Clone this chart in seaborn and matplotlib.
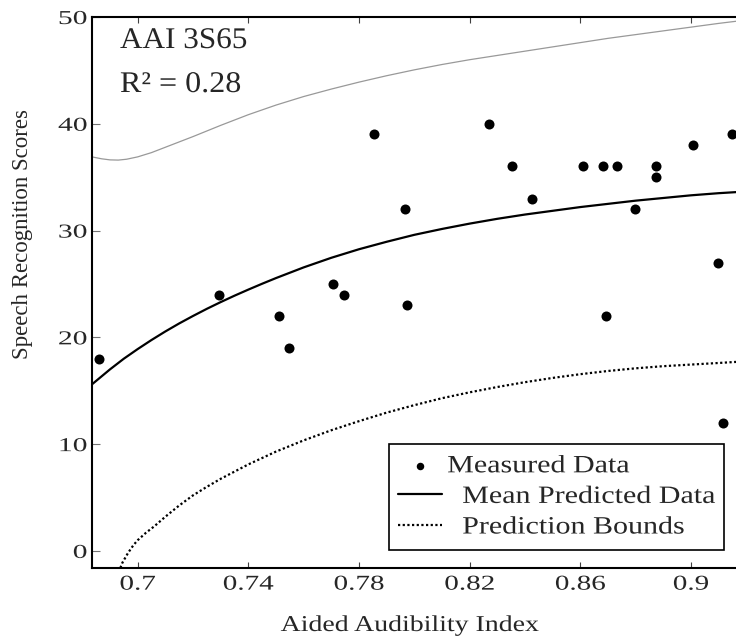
import numpy as np
import pandas as pd
import matplotlib
matplotlib.use("Agg")
import matplotlib.pyplot as plt
import seaborn as sns
from matplotlib.patheffects import AbstractPathEffect
from matplotlib.transforms import Affine2D

# ---------------- data ----------------
aai_measured = [0.686, 0.7295, 0.751, 0.7547, 0.7706, 0.7746, 0.7854, 0.7966, 0.7974,
                0.827, 0.8355, 0.8424, 0.861, 0.8683, 0.8692, 0.8732, 0.8798, 0.8873,
                0.8873, 0.9007, 0.9097, 0.9116, 0.9148]
score_measured = [18, 24, 22, 19, 25, 24, 39, 32, 23,
                  40, 36, 33, 36, 36, 22, 36, 32, 36,
                  35, 38, 27, 12, 39]

mean_x = [0.6835, 0.690, 0.695, 0.700, 0.705, 0.710, 0.715, 0.720, 0.725, 0.730, 0.735,
          0.740, 0.745, 0.750, 0.760, 0.770, 0.780, 0.790, 0.800, 0.810, 0.820, 0.830,
          0.840, 0.850, 0.860, 0.870, 0.880, 0.890, 0.900, 0.910, 0.9163]
mean_y = [15.6, 17.0, 18.0, 18.9, 19.75, 20.55, 21.3, 22.0, 22.67, 23.3, 23.9,
          24.47, 25.02, 25.55, 26.55, 27.45, 28.25, 28.95, 29.6, 30.15, 30.65, 31.1,
          31.5, 31.85, 32.2, 32.5, 32.8, 33.05, 33.3, 33.5, 33.6]

upper_x = [0.6835, 0.687, 0.690, 0.693, 0.696, 0.700, 0.705, 0.710, 0.715, 0.720, 0.730,
           0.740, 0.750, 0.760, 0.770, 0.780, 0.790, 0.800, 0.810, 0.820, 0.830, 0.840,
           0.850, 0.860, 0.870, 0.880, 0.890, 0.900, 0.910, 0.9163]
upper_y = [36.9, 36.72, 36.62, 36.6, 36.68, 36.9, 37.3, 37.8, 38.3, 38.8, 39.85,
           40.85, 41.75, 42.55, 43.25, 43.9, 44.5, 45.05, 45.55, 46.0, 46.4, 46.8,
           47.2, 47.6, 48.0, 48.35, 48.7, 49.05, 49.4, 49.6]

lower_x = [0.6925, 0.6945, 0.6965, 0.6985, 0.700, 0.703, 0.706, 0.710, 0.715, 0.720,
           0.725, 0.730, 0.740, 0.750, 0.760, 0.770, 0.780, 0.790, 0.800, 0.810,
           0.820, 0.830, 0.840, 0.850, 0.860, 0.870, 0.880, 0.890, 0.900, 0.910, 0.9163]
lower_y = [-2.4, -1.1, -0.2, 0.55, 1.0, 1.7, 2.3, 3.2, 4.25, 5.2,
           6.0, 6.75, 8.1, 9.3, 10.35, 11.3, 12.15, 12.95, 13.65, 14.3,
           14.85, 15.35, 15.8, 16.2, 16.55, 16.85, 17.1, 17.3, 17.45, 17.6, 17.7]

xticks = [0.70, 0.74, 0.78, 0.82, 0.86, 0.90]
xtick_labels = ["0.7", "0.74", "0.78", "0.82", "0.86", "0.9"]
yticks = [0, 10, 20, 30, 40, 50]
ytick_labels = ["0", "10", "20", "30", "40", "50"]

title_text = "AAI 3S65"
r2_text = "R\u00b2 = 0.28"
xlabel = "Aided Audibility Index"
ylabel = "Speech Recognition Scores"
legend_labels = ["Measured Data", "Mean Predicted Data", "Prediction Bounds"]


# ------------- text shape effect (keeps real text) -------------
class Stretch(AbstractPathEffect):
    def __init__(self, sx=1.0, sy=1.0, anchor="center", ymid=33.0, dx=0.0):
        super().__init__()
        self.sx, self.sy, self.anchor, self.ymid, self.dx = sx, sy, anchor, ymid, dx

    def draw_path(self, renderer, gc, tpath, affine, rgbFace=None):
        ext = tpath.get_extents()
        if self.anchor == "left":
            cx = ext.x0
        elif self.anchor == "right":
            cx = ext.x1
        else:
            cx = 0.5 * (ext.x0 + ext.x1)
        t = (Affine2D().translate(-cx, -self.ymid).scale(self.sx, self.sy)
             .translate(cx, self.ymid) + affine + Affine2D().translate(self.dx, 0))
        renderer.draw_path(gc, tpath, t, rgbFace)


sns.set_theme(style="white")
plt.rcParams["font.family"] = ["Liberation Serif", "DejaVu Serif"]

W, H = 736, 642
fig = plt.figure(figsize=(W / 100, H / 100), dpi=100)
ax = fig.add_axes([92 / W, 74 / H, 644 / W, 551 / H])

# upper bound (gray)
sns.lineplot(x=upper_x, y=upper_y, ax=ax, color="#999999", linewidth=0.9,
             sort=False, estimator=None, label="_nolegend_")
# lower bound (dotted)
sns.lineplot(x=lower_x, y=lower_y, ax=ax, color="black", linewidth=1.6,
             linestyle=(0, (1, 1.1)), sort=False, estimator=None, label=legend_labels[2])
# mean prediction
sns.lineplot(x=mean_x, y=mean_y, ax=ax, color="black", linewidth=1.6,
             sort=False, estimator=None, label=legend_labels[1])
# measured data
sns.scatterplot(x=aai_measured, y=score_measured, ax=ax, color="black", s=52,
                edgecolor="black", linewidth=0, label=legend_labels[0], zorder=5)

ax.set_xlim(0.6835, 0.9163)
ax.set_ylim(-1.6, 50.0)
ax.set_xticks(xticks)
ax.set_xticklabels(xtick_labels)
ax.set_yticks(yticks)
ax.set_yticklabels(ytick_labels)

for side in ["left", "bottom", "top"]:
    ax.spines[side].set_visible(True)
    ax.spines[side].set_color("black")
    ax.spines[side].set_linewidth(1.5)
ax.spines["right"].set_visible(False)

ax.tick_params(axis="x", which="both", direction="in", length=4.0, width=0.8,
               color="0.25", top=True, bottom=True, labelsize=15.2, pad=5.5)
ax.tick_params(axis="y", which="both", direction="in", length=6.0, width=0.8,
               color="0.45", left=True, right=False, labelsize=14.2, pad=3.5)

for t in ax.get_xticklabels():
    t.set_path_effects([Stretch(sx=1.38, anchor="center")])
for t in ax.get_yticklabels():
    t.set_path_effects([Stretch(sx=1.5, anchor="right")])

ax.set_xlabel(xlabel, fontsize=16.3)
ax.set_ylabel(ylabel, fontsize=16.5)
ax.xaxis.label.set_path_effects([Stretch(sx=1.23, anchor="center")])
ax.xaxis.set_label_coords((410 - 92) / 644, (568 - 615) / 551)
ax.yaxis.set_label_coords((33 - 92) / 644, (568 - 234) / 551)

ax.text((120 - 92) / 644, (568 - 48) / 551, title_text, transform=ax.transAxes,
        ha="left", va="baseline", fontsize=21.6,
        path_effects=[Stretch(sx=1.04, anchor="left")])
ax.text((120 - 92) / 644, (568 - 92) / 551, r2_text, transform=ax.transAxes,
        ha="left", va="baseline", fontsize=21.6,
        path_effects=[Stretch(sx=1.07, anchor="left")])

handles, labels = ax.get_legend_handles_labels()
order = [labels.index(l) for l in legend_labels]
leg = ax.legend([handles[i] for i in order], [labels[i] for i in order],
                loc="upper left", bbox_to_anchor=(389 / W, 1 - 444 / H),
                bbox_transform=fig.transFigure, borderaxespad=0,
                frameon=True, fancybox=False, shadow=False, framealpha=1,
                edgecolor="black", fontsize=21.6, borderpad=0.3,
                handlelength=1.47, handletextpad=0.67, labelspacing=0.12,
                markerscale=0.75)
leg.get_frame().set_linewidth(1.2)
for i, t in enumerate(leg.get_texts()):
    t.set_path_effects([Stretch(sx=1.0, sy=0.83, anchor="left",
                                dx=-15.0 if i == 0 else 0.0)])

ax.grid(False)
fig.savefig("out.png", dpi=100)
